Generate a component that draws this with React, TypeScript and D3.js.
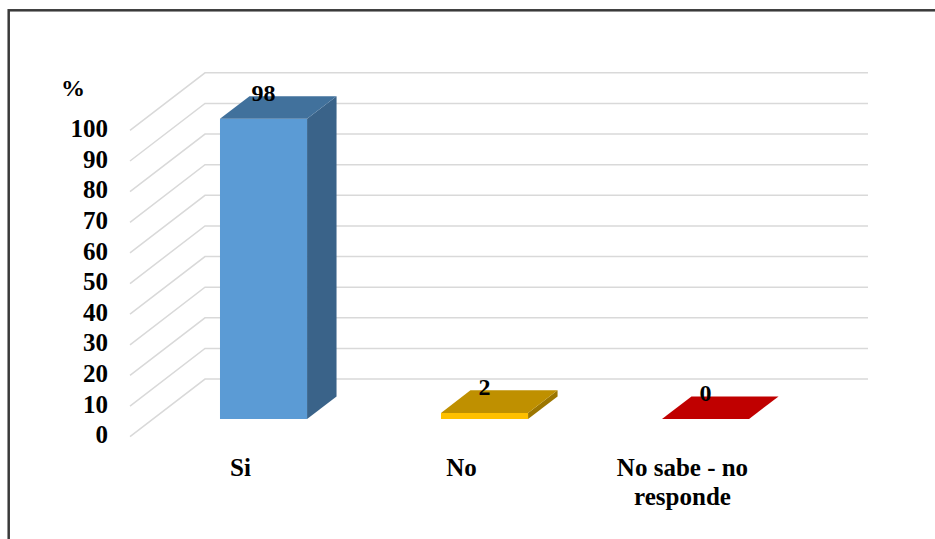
import React from "react";
import * as d3 from "d3";

// Survey answers and their percentages
const categories: string[][] = [["Si"], ["No"], ["No sabe - no", "responde"]];
const values: number[] = [98, 2, 0];
const tickValues: number[] = [0, 10, 20, 30, 40, 50, 60, 70, 80, 90, 100];
const axisTitle = "%";

// Face colours for each bar: [front, top, side]
const barColors: string[][] = [
  ["#5B9BD5", "#41719C", "#3A6389"],
  ["#FFC000", "#BF9000", "#9C7600"],
  ["#C00000", "#C00000", "#900000"],
];

const W = 935;
const H = 539;
const FONT =
  "'Times New Roman', Times, 'Liberation Serif', 'DejaVu Serif', 'Noto Serif', 'Nimbus Roman', FreeSerif, Tinos, serif";

// Oblique projection of the floor depth
const DEPTH_X = 75;
const DEPTH_Y = -57.6;
const BAR_Z0 = 0.307;
const BAR_Z1 = 0.7;
const BAR_FRACTION = 0.394;

const textStyle: React.CSSProperties = { fontFamily: FONT, fontWeight: 700 };

export default function App() {
  const y = d3.scaleLinear().domain([0, 100]).range([436.7, 130.4]);
  const x = d3
    .scaleBand<number>()
    .domain(values.map((_, i) => i))
    .range([130, 793])
    .paddingInner(0)
    .paddingOuter(0);

  const backRight = 868;
  const proj = (px: number, v: number, z: number): [number, number] => [
    px + z * DEPTH_X,
    y(v) + z * DEPTH_Y,
  ];
  const poly = (pts: [number, number][]) => d3.line()(pts.concat([pts[0]])) as string;

  return (
    <svg
      width={W}
      height={H}
      style={{ position: "absolute", left: 0, top: 0, display: "block", background: "#fff" }}
    >
      <rect x={0} y={0} width={W} height={H} fill="#fff" />
      {/* chart border */}
      <rect x={8.7} y={10.3} width={W + 20} height={H + 20} fill="none" stroke="#3a3a3a" strokeWidth={2.5} />

      {/* gridlines: slanted side wall + back wall */}
      {tickValues.map((t) => {
        const front = proj(130, t, 0);
        const back = proj(130, t, 1);
        return (
          <path
            key={`g${t}`}
            d={d3.line()([front, back, [backRight, back[1]]]) as string}
            fill="none"
            stroke="#d9d9d9"
            strokeWidth={1.5}
          />
        );
      })}

      {/* tick labels */}
      {tickValues.map((t) => (
        <text key={`t${t}`} x={108} y={y(t) + 6.6} textAnchor="end" fontSize={25} fill="#000" style={textStyle}>
          {t}
        </text>
      ))}
      <text x={73} y={96} textAnchor="middle" fontSize={24} fill="#000" style={textStyle}>
        {axisTitle}
      </text>

      {/* bars */}
      {values.map((v, i) => {
        const cx = (x(i) as number) + x.bandwidth() / 2;
        const bw = x.bandwidth() * BAR_FRACTION;
        const xl = cx - bw / 2;
        const xr = cx + bw / 2;
        const [front, top, side] = barColors[i];
        const topFace = poly([proj(xl, v, BAR_Z0), proj(xr, v, BAR_Z0), proj(xr, v, BAR_Z1), proj(xl, v, BAR_Z1)]);
        const sideFace = poly([proj(xr, v, BAR_Z0), proj(xr, v, BAR_Z1), proj(xr, 0, BAR_Z1), proj(xr, 0, BAR_Z0)]);
        const frontFace = poly([proj(xl, v, BAR_Z0), proj(xr, v, BAR_Z0), proj(xr, 0, BAR_Z0), proj(xl, 0, BAR_Z0)]);
        const labelPos = proj(cx, v, BAR_Z0);
        return (
          <g key={`b${i}`}>
            {v > 0 && <path d={sideFace} fill={side} />}
            {v > 0 && <path d={frontFace} fill={front} />}
            <path d={topFace} fill={top} />
            <text x={labelPos[0]} y={labelPos[1] - 18} textAnchor="middle" fontSize={24} fill="#000" style={textStyle}>
              {v}
            </text>
          </g>
        );
      })}

      {/* category labels */}
      {categories.map((lines, i) => {
        const cx = (x(i) as number) + x.bandwidth() / 2;
        return (
          <text key={`c${i}`} textAnchor="middle" fontSize={25} fill="#000" style={textStyle}>
            {lines.map((l, j) => (
              <tspan key={j} x={cx} y={476 + j * 29}>
                {l}
              </tspan>
            ))}
          </text>
        );
      })}
    </svg>
  );
}
